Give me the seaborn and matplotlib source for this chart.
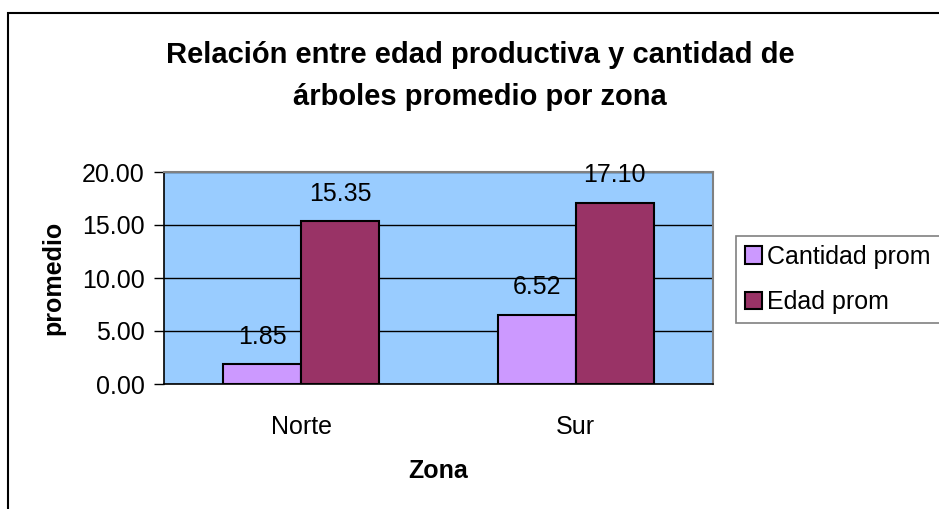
import matplotlib
matplotlib.use("Agg")
import matplotlib.pyplot as plt
import matplotlib.ticker as mticker
from matplotlib.patches import Rectangle
import pandas as pd
import seaborn as sns

zonas = ["Norte", "Sur"]
series = ["Cantidad prom", "Edad prom"]
cantidad_prom = [1.85, 6.52]
edad_prom = [15.35, 17.10]
colores = ["#CC99FF", "#993366"]

df = pd.DataFrame({
    "Zona": zonas * 2,
    "serie": [series[0]] * 2 + [series[1]] * 2,
    "promedio": cantidad_prom + edad_prom,
})

sns.set_style("white")
plt.rcParams["font.family"] = ["Liberation Sans", "DejaVu Sans"]
plt.rcParams["text.color"] = "black"
plt.rcParams["axes.labelcolor"] = "black"
plt.rcParams["xtick.color"] = "black"
plt.rcParams["ytick.color"] = "black"
fs = 18

fig = plt.figure(figsize=(9.39, 5.09), dpi=100)
ax = fig.add_axes([164/939, 1-384/509, 549/939, 212/509])
ax.set_facecolor("#99CCFF")

sns.barplot(data=df, x="Zona", y="promedio", hue="serie", order=zonas,
            hue_order=series, palette=colores, saturation=1, width=0.568,
            edgecolor="black", linewidth=1.5, ax=ax, zorder=3)

ax.set_ylim(0, 20)
ax.set_xlim(-0.5, 1.5)
ax.yaxis.set_major_locator(mticker.MultipleLocator(5))
ax.yaxis.set_major_formatter(mticker.FormatStrFormatter("%.2f"))
ax.grid(axis="y", color="black", linewidth=1.0, zorder=1)
ax.set_axisbelow(True)

ax.set_xticks([0, 1])
ax.set_xticks([-0.5, 0.5, 1.5], minor=True)
ax.tick_params(axis="x", which="major", length=0, pad=22, labelsize=fs)
ax.tick_params(axis="x", which="minor", length=7, width=1, direction="out", color="black")
ax.tick_params(axis="y", length=7, width=1, direction="out", pad=7, labelsize=fs, color="black", left=True)

for side in ["top", "right"]:
    ax.spines[side].set_color("#808080")
    ax.spines[side].set_linewidth(1.5)
for side in ["left", "bottom"]:
    ax.spines[side].set_color("black")
    ax.spines[side].set_linewidth(1.2)

for cont in ax.containers:
    for bar in cont:
        h = bar.get_height()
        ax.annotate(f"{h:.2f}", (bar.get_x() + bar.get_width()/2, h),
                    xytext=(0, 20), textcoords="offset points",
                    ha="center", va="center", fontsize=fs)

ax.set_xlabel("Zona", fontsize=fs, fontweight="bold", labelpad=15)
ax.set_ylabel("promedio", fontsize=fs, fontweight="bold", labelpad=12)

leg = ax.legend(loc="upper left", bbox_to_anchor=(736/939, 1-236/509),
                bbox_transform=fig.transFigure, fontsize=fs, frameon=True,
                fancybox=False, handlelength=0.7, handleheight=0.7,
                handletextpad=0.2, borderpad=0.35, labelspacing=0.85,
                borderaxespad=0)
leg.get_frame().set_edgecolor("#606060")
leg.get_frame().set_linewidth(1.2)

fig.text(480/939, 1-76/509, "Relación entre edad productiva y cantidad de\nárboles promedio por zona",
         ha="center", va="center", fontsize=21, fontweight="bold", linespacing=1.6)

fig.patches.append(Rectangle((8/939, -0.1), 2, 1 - 13/509 + 0.1, transform=fig.transFigure,
                             fill=False, edgecolor="black", linewidth=1.5))

fig.savefig("out.png", dpi=100)
